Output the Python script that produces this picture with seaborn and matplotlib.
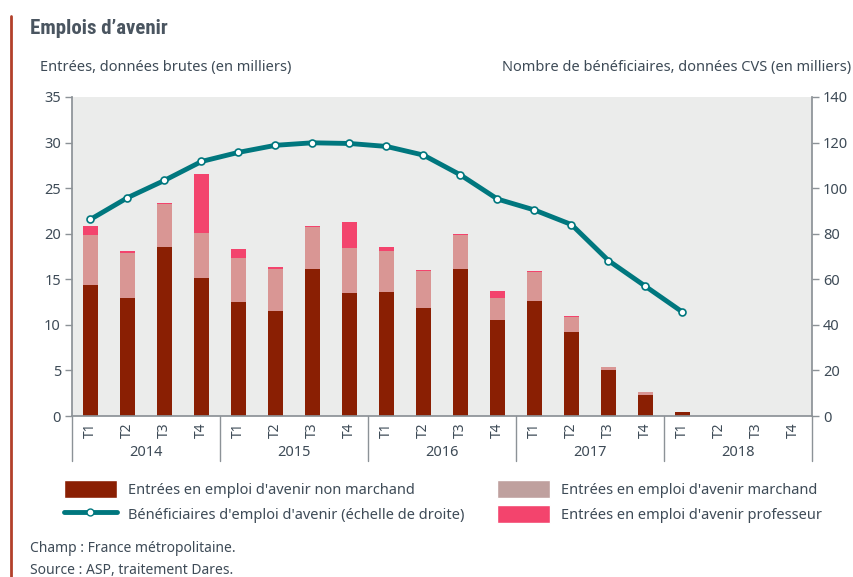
import numpy as np
import pandas as pd
import matplotlib
matplotlib.use("Agg")
import matplotlib.pyplot as plt
import matplotlib.transforms as mtransforms
from matplotlib import font_manager
from matplotlib.patches import Patch
from matplotlib.lines import Line2D
import seaborn as sns

# data (en milliers)
years = ["2014", "2015", "2016", "2017", "2018"]
quarters = ["T1", "T2", "T3", "T4"]
non_marchand = [14.4, 13.0, 18.5, 15.1, 12.5, 11.5, 16.1, 13.5, 13.6, 11.9,
                16.1, 10.5, 12.6, 9.2, 5.0, 2.3, 0.4, 0, 0, 0]
marchand = [5.5, 4.9, 4.8, 5.0, 4.8, 4.6, 4.6, 4.9, 4.5, 4.0,
            3.8, 2.5, 3.2, 1.7, 0.4, 0.3, 0.05, 0, 0, 0]
professeur = [0.9, 0.2, 0.1, 6.4, 1.0, 0.2, 0.1, 2.9, 0.4, 0.1,
              0.1, 0.7, 0.1, 0.05, 0, 0, 0, 0, 0, 0]
beneficiaires = [86.3, 95.8, 103.4, 111.7, 115.7, 118.8, 119.9, 119.6, 118.3,
                 114.5, 105.8, 95.2, 90.4, 84.0, 68.2, 56.9, 45.6]

c_dark = "#8a1f03"
c_light = "#d99694"
c_pink = "#f3446d"
c_teal = "#00777e"
c_text = "#3e4b57"
c_axis = "#8c9297"

labels = [y + " " + q for y in years for q in quarters]
df = pd.DataFrame({"periode": labels,
                   "non_marchand": non_marchand,
                   "marchand": marchand,
                   "professeur": professeur})
df["bas"] = df["non_marchand"]
df["milieu"] = df["non_marchand"] + df["marchand"]
df["total"] = df["milieu"] + df["professeur"]

ben = pd.DataFrame({"pos": range(len(beneficiaires)), "valeur": beneficiaires})

sns.set_theme(style="white")
plt.rcParams["font.family"] = ["Noto Sans", "DejaVu Sans"]

# narrow font for the title if one is installed
installed = {f.name for f in font_manager.fontManager.ttflist}
narrow = [n for n in ["Roboto Condensed", "Noto Sans Condensed", "Liberation Sans Narrow",
                      "Open Sans Condensed", "DejaVu Sans Condensed"] if n in installed]
title_family = narrow[:1] + ["DejaVu Sans"]

fig = plt.figure(figsize=(8.54, 5.77), dpi=100)
ax = fig.add_axes([72/854, 1-416/577, 740/854, 319/577])
ax.set_facecolor("#ebeceb")

w = 0.43
sns.barplot(data=df, x="periode", y="total", order=labels, color=c_pink,
            width=w, saturation=1, ax=ax, linewidth=0)
sns.barplot(data=df, x="periode", y="milieu", order=labels, color=c_light,
            width=w, saturation=1, ax=ax, linewidth=0)
sns.barplot(data=df, x="periode", y="bas", order=labels, color=c_dark,
            width=w, saturation=1, ax=ax, linewidth=0)

ax.set_xlim(-0.5, 19.5)
ax.set_ylim(0, 35)
ax.set_yticks(range(0, 36, 5))
ax.set_xlabel("")
ax.set_ylabel("")
ax.set_xticks(range(20))
ax.set_xticklabels(quarters * 5, rotation=90, color=c_text, fontsize=10)
ax.set_xticks(np.arange(-0.5, 20, 1), minor=True)
ax.tick_params(axis="x", which="major", length=0, pad=5)
ax.tick_params(axis="x", which="minor", length=22, width=1, color=c_axis, direction="out")
ax.tick_params(axis="y", length=5, width=1, color=c_axis, direction="out",
               labelcolor=c_text, labelsize=10.5, pad=3)

for s in ["top", "right"]:
    ax.spines[s].set_visible(False)
ax.spines["left"].set_color(c_axis)
ax.spines["bottom"].set_color(c_axis)

trans = mtransforms.blended_transform_factory(ax.transData, ax.transAxes)
for i, yr in enumerate(years):
    ax.text(i*4 + 1.5, -0.113, yr, transform=trans, ha="center", va="center",
            color=c_text, fontsize=10.5)
for b in [-0.5, 3.5, 7.5, 11.5, 15.5, 19.5]:
    ax.plot([b, b], [0, -0.14], transform=trans, color=c_axis, lw=1, clip_on=False)

ax2 = ax.twinx()
sns.lineplot(data=ben, x="pos", y="valeur", ax=ax2, color=c_teal, lw=3.5,
             marker="o", markersize=5, markerfacecolor="white",
             markeredgecolor=c_teal, markeredgewidth=1.2)
ax2.set_ylim(0, 140)
ax2.set_yticks(range(0, 141, 20))
ax2.set_xlim(-0.5, 19.5)
ax2.set_xlabel("")
ax2.set_ylabel("")
ax2.tick_params(axis="y", length=5, width=1, color=c_axis, direction="out",
                labelcolor=c_text, labelsize=10.5, pad=3)
for s in ["top", "left", "bottom"]:
    ax2.spines[s].set_visible(False)
ax2.spines["right"].set_color(c_axis)

# titles
fig.lines.append(Line2D([11/854, 11/854], [0, 1-16/577], transform=fig.transFigure,
                        color="#b2402a", lw=2))
if narrow:
    fig.text(30/854, 1-28/577, "Emplois d’avenir", fontsize=15, color="#4a5560",
             fontweight="bold", family=title_family, ha="left", va="center")
else:
    fig.text(30/854, 1-28/577, "Emplois d’avenir", fontsize=13, color="#4a5560",
             fontweight="semibold", family=["Roboto", "DejaVu Sans"],
             ha="left", va="center")
fig.text(40/854, 1-68/577, "Entrées, données brutes (en milliers)", fontsize=10.5,
         color=c_text, ha="left", va="center")
fig.text(851/854, 1-68/577, "Nombre de bénéficiaires, données CVS (en milliers)",
         fontsize=10.5, color=c_text, ha="right", va="center")

# legend
h_dark = Patch(facecolor=c_dark, label="Entrées en emploi d'avenir non marchand")
h_line = Line2D([], [], color=c_teal, lw=3.5, marker="o", markersize=5,
                markerfacecolor="white", markeredgecolor=c_teal,
                label="Bénéficiaires d'emploi d'avenir (échelle de droite)")
h_light = Patch(facecolor="#bfa09e", label="Entrées en emploi d'avenir marchand")
h_pink = Patch(facecolor=c_pink, label="Entrées en emploi d'avenir professeur")
kw = dict(frameon=False, loc="upper left", fontsize=10.5, handlelength=3.6,
          handleheight=1.55, labelspacing=0.45, borderpad=0, borderaxespad=0,
          handletextpad=0.8, labelcolor=c_text)
leg1 = fig.legend(handles=[h_dark, h_line], bbox_to_anchor=(64/854, 1-480/577), **kw)
leg2 = fig.legend(handles=[h_light, h_pink], bbox_to_anchor=(497/854, 1-480/577), **kw)

fig.text(30/854, 1-549/577, "Champ : France métropolitaine.", fontsize=10,
         color=c_text, ha="left", va="center")
fig.text(30/854, 1-571/577, "Source : ASP, traitement Dares.", fontsize=10,
         color=c_text, ha="left", va="center")

fig.savefig("out.png", dpi=100, facecolor="white")
